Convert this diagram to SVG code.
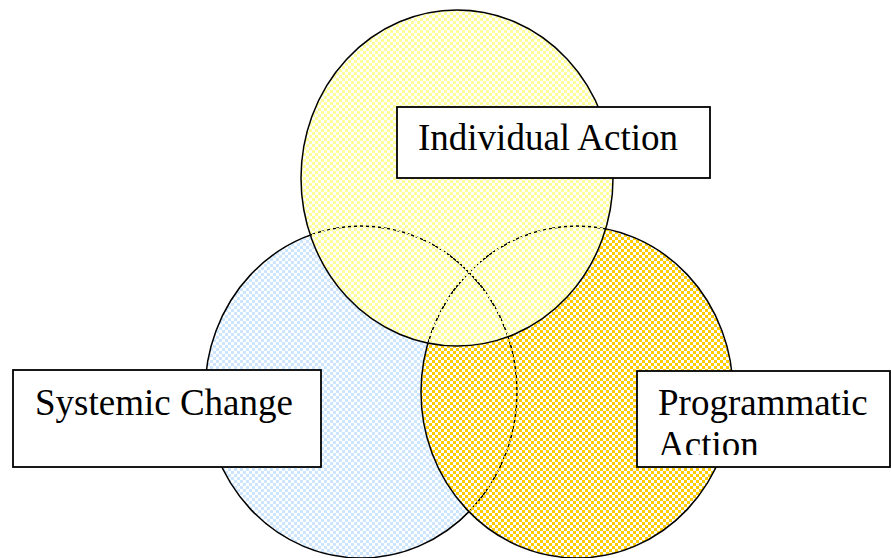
<svg xmlns="http://www.w3.org/2000/svg" width="891" height="558" viewBox="0 0 891 558">
  <defs>
    <!-- checkered fills: coloured cells opaque, the rest left transparent, all in the same phase -->
    <pattern id="chkBlue" patternUnits="userSpaceOnUse" width="6" height="6">
      <rect x="0" y="0" width="3" height="3" fill="#CCE6FF"/>
      <rect x="3" y="3" width="3" height="3" fill="#CCE6FF"/>
    </pattern>
    <pattern id="chkGold" patternUnits="userSpaceOnUse" width="6" height="6">
      <rect x="0" y="0" width="3" height="3" fill="#FFCC00"/>
      <rect x="3" y="3" width="3" height="3" fill="#FFCC00"/>
    </pattern>
    <pattern id="chkYellow" patternUnits="userSpaceOnUse" width="6" height="6">
      <rect x="0" y="0" width="3" height="3" fill="#FFFF99"/>
      <rect x="3" y="3" width="3" height="3" fill="#FFFF99"/>
    </pattern>
    <clipPath id="clipProg">
      <rect x="637" y="371" width="253" height="84"/>
    </clipPath>
  </defs>
  <style>
    .ring { stroke: #000; stroke-width: 1.5; }
    .box { fill: #fff; stroke: #000; stroke-width: 1.8; }
    .lbl { font-family: "Liberation Serif", "Times New Roman", serif; font-size: 37px; fill: #000; }
  </style>

  <rect width="891" height="558" fill="#fff"/>

  <g id="circles">
    <ellipse id="systemic-circle" class="ring" cx="361" cy="392" rx="156" ry="166" fill="url(#chkBlue)"/>
    <ellipse id="programmatic-circle" class="ring" cx="577" cy="392" rx="156" ry="166" fill="url(#chkGold)"/>
    <ellipse id="individual-circle" class="ring" cx="457" cy="178" rx="156" ry="168" fill="url(#chkYellow)"/>
  </g>

  <g id="individual-label">
    <rect class="box" x="397" y="107" width="313" height="71"/>
    <text class="lbl" x="418" y="150">Individual Action</text>
  </g>

  <g id="systemic-label">
    <rect class="box" x="13" y="370" width="308" height="97"/>
    <text class="lbl" x="35" y="415">Systemic Change</text>
  </g>

  <g id="programmatic-label">
    <rect class="box" x="637" y="371" width="253" height="96"/>
    <text class="lbl" clip-path="url(#clipProg)" x="658" y="415">Programmatic<tspan x="658" y="457">Action</tspan></text>
  </g>
</svg>
